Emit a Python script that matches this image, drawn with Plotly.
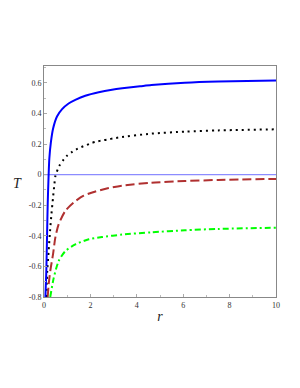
import plotly.graph_objects as go

# Data
r_blue = [0.06, 0.10, 0.13, 0.16, 0.20, 0.23, 0.30, 0.39, 0.56, 0.78, 1.06, 1.35, 1.78, 2.36, 2.93, 3.37, 4.14, 4.63, 6.07, 7.51, 10.0]
T_blue = [-0.80, -0.63, -0.41, -0.19, 0.0, 0.105, 0.215, 0.30, 0.38, 0.428, 0.465, 0.489, 0.516, 0.539, 0.555, 0.564, 0.577, 0.585, 0.601, 0.609, 0.615]

r_black = [0.09, 0.14, 0.20, 0.26, 0.32, 0.39, 0.45, 0.49, 0.66, 0.85, 0.99, 1.18, 1.38, 1.60, 1.83, 2.04, 2.29, 2.53, 2.76, 3.0, 3.25, 4.63, 6.07, 7.51, 10.0]
T_black = [-0.80, -0.63, -0.50, -0.37, -0.26, -0.149, -0.061, -0.01, 0.057, 0.099, 0.123, 0.145, 0.164, 0.18, 0.193, 0.206, 0.217, 0.224, 0.23, 0.237, 0.243, 0.268, 0.281, 0.289, 0.296]

r_red = [0.16, 0.20, 0.27, 0.39, 0.49, 0.63, 0.92, 1.28, 1.71, 2.22, 2.79, 3.37, 4.63, 6.07, 7.51, 10.0]
T_red = [-0.80, -0.72, -0.63, -0.52, -0.41, -0.325, -0.237, -0.182, -0.138, -0.11, -0.088, -0.072, -0.053, -0.042, -0.035, -0.028]

r_green = [0.27, 0.42, 0.63, 0.92, 1.35, 1.93, 2.50, 3.37, 4.63, 6.07, 7.51, 10.0]
T_green = [-0.80, -0.675, -0.566, -0.50, -0.456, -0.423, -0.408, -0.392, -0.377, -0.364, -0.355, -0.347]

r_zero = [0, 10]
T_zero = [0, 0]

x_ticks = [0, 2, 4, 6, 8, 10]
x_ticklabels = ["0", "2", "4", "6", "8", "10"]
y_ticks = [-0.8, -0.6, -0.4, -0.2, 0, 0.2, 0.4, 0.6]
y_ticklabels = ["-0.8", "-0.6", "-0.4", "-0.2", "0", "0.2", "0.4", "0.6"]

fig = go.Figure()
fig.add_trace(go.Scatter(x=r_zero, y=T_zero, mode="lines",
                         line=dict(color="#8c8cff", width=1.3), hoverinfo="skip"))
fig.add_trace(go.Scatter(x=r_green, y=T_green, mode="lines", line_shape="spline", line_smoothing=0.7,
                         line=dict(color="#00ff00", width=2, dash="6px,3px,2px,3px")))
fig.add_trace(go.Scatter(x=r_red, y=T_red, mode="lines", line_shape="spline", line_smoothing=0.7,
                         line=dict(color="#b03030", width=2, dash="9px,4px")))
fig.add_trace(go.Scatter(x=r_black, y=T_black, mode="lines", line_shape="spline", line_smoothing=0.7,
                         line=dict(color="#000000", width=2, dash="2px,4px")))
fig.add_trace(go.Scatter(x=r_blue, y=T_blue, mode="lines", line_shape="spline", line_smoothing=0.7,
                         line=dict(color="#0000ff", width=2)))

tickfont = dict(family="Liberation Serif", size=8, color="#333333")
fig.update_layout(
    width=300, height=388,
    margin=dict(l=36, r=32, t=58, b=99),
    paper_bgcolor="white", plot_bgcolor="white",
    showlegend=False,
    xaxis=dict(range=[0, 10], tickvals=x_ticks, ticktext=x_ticklabels, automargin=False,
               showgrid=False, zeroline=False, showline=True, linecolor="#888888",
               linewidth=1, mirror=True, ticks="inside", ticklen=3, tickcolor="#aaaaaa",
               tickfont=tickfont,
               minor=dict(tickvals=[1, 3, 5, 7, 9], ticks="inside", ticklen=2, tickcolor="#bbbbbb"),
               title=dict(text="<i>r</i>", font=dict(family="Liberation Serif", size=14, color="#222222"), standoff=2)),
    yaxis=dict(range=[-0.8, 0.71], tickvals=y_ticks, ticktext=y_ticklabels, automargin=False,
               showgrid=False, zeroline=False, showline=True, linecolor="#888888",
               linewidth=1, mirror=True, ticks="inside", ticklen=3, tickcolor="#aaaaaa",
               tickfont=tickfont,
               minor=dict(tickvals=[-0.7, -0.5, -0.3, -0.1, 0.1, 0.3, 0.5, 0.7], ticks="inside", ticklen=2, tickcolor="#bbbbbb")),
)
fig.add_annotation(text="<i>T</i>", xref="paper", yref="paper", x=-0.116, y=0.49,
                   showarrow=False, font=dict(family="Liberation Serif", size=14, color="#222222"),
                   xanchor="center", yanchor="middle")

fig.write_html("out.html")
